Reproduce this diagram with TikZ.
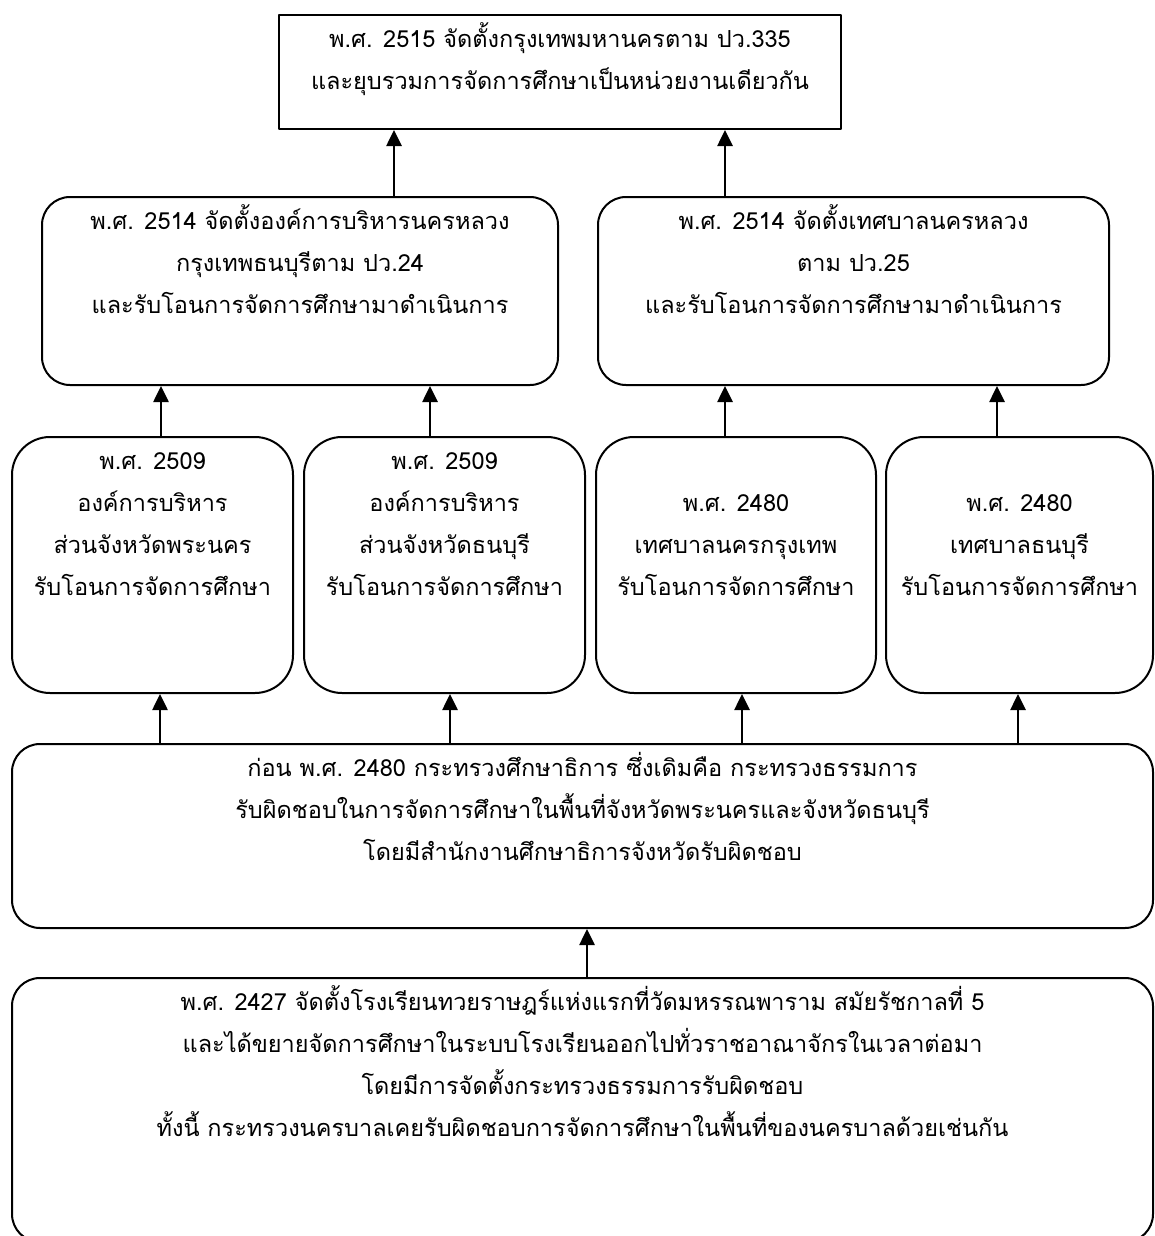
\documentclass[tikz,border=0pt]{standalone}
\usepackage{fontspec}
\setmainfont[Script=Thai]{Loma}
\usetikzlibrary{arrows.meta,positioning,calc}
\newcommand\thaitext{\fontsize{23.5}{42}\selectfont}
\tikzset{
  box/.style={draw, line width=2pt, inner sep=0pt},
  rbox/.style={box, rounded corners=28pt},
  tallbox/.style={box, rounded corners=38pt, minimum width=281pt, minimum height=256pt},
  txt/.style={anchor=north, align=center, inner sep=0pt, yshift=-4pt, font=\thaitext},
  arr/.style={line width=2.6pt, -{Triangle[width=15pt,length=16pt]}},
}

\begin{document}
\begin{tikzpicture}[x=1pt, y=-1pt, line join=round]
\useasboundingbox (0,0) rectangle (1154,1236);
% top
\node[box, minimum width=562pt, minimum height=114pt,
  label={[txt]north:{\strut พ.ศ. 2515 จัดตั้งกรุงเทพมหานครตาม ปว.335\\และยุบรวมการจัดการศึกษาเป็นหน่วยงานเดียวกัน}}] (y2515) at (560,72) {};
% 2514
\node[rbox, minimum width=516pt, minimum height=188pt,
  label={[txt]north:{\strut พ.ศ. 2514 จัดตั้งองค์การบริหารนครหลวง\\กรุงเทพธนบุรีตาม ปว.24\\และรับโอนการจัดการศึกษามาดำเนินการ}}] (y2514a) at (300,291) {};
\node[rbox, minimum width=511pt, minimum height=188pt,
  label={[txt]north:{\strut พ.ศ. 2514 จัดตั้งเทศบาลนครหลวง\\ตาม ปว.25\\และรับโอนการจัดการศึกษามาดำเนินการ}}] (y2514b) at (853.5,291) {};
% 2509 / 2480
\node[tallbox,
  label={[txt]north:{\strut พ.ศ. 2509\\องค์การบริหาร\\ส่วนจังหวัดพระนคร\\รับโอนการจัดการศึกษา}}] (y2509a) at (152.5,565) {};
\node[tallbox,
  label={[txt]north:{\strut พ.ศ. 2509\\องค์การบริหาร\\ส่วนจังหวัดธนบุรี\\รับโอนการจัดการศึกษา}}] (y2509b) at (444.5,565) {};
\node[tallbox, minimum width=280pt,
  label={[txt, yshift=-42pt]north:{\strut พ.ศ. 2480\\เทศบาลนครกรุงเทพ\\รับโอนการจัดการศึกษา}}] (y2480a) at (736,565) {};
\node[tallbox, minimum width=267pt,
  label={[txt, yshift=-42pt]north:{\strut พ.ศ. 2480\\เทศบาลธนบุรี\\รับโอนการจัดการศึกษา}}] (y2480b) at (1019.5,565) {};
% before 2480
\node[rbox, minimum width=1141pt, minimum height=184pt,
  label={[txt]north:{\strut ก่อน พ.ศ. 2480 กระทรวงศึกษาธิการ ซึ่งเดิมคือ กระทรวงธรรมการ\\รับผิดชอบในการจัดการศึกษาในพื้นที่จังหวัดพระนครและจังหวัดธนบุรี\\โดยมีสำนักงานศึกษาธิการจังหวัดรับผิดชอบ}}] (pre2480) at (582.5,836) {};
% 2427
\node[rbox, minimum width=1141pt, minimum height=264pt,
  label={[txt]north:{\strut พ.ศ. 2427 จัดตั้งโรงเรียนทวยราษฎร์แห่งแรกที่วัดมหรรณพาราม สมัยรัชกาลที่ 5\\และได้ขยายจัดการศึกษาในระบบโรงเรียนออกไปทั่วราชอาณาจักรในเวลาต่อมา\\โดยมีการจัดตั้งกระทรวงธรรมการรับผิดชอบ\\ทั้งนี้ กระทรวงนครบาลเคยรับผิดชอบการจัดการศึกษาในพื้นที่ของนครบาลด้วยเช่นกัน}}] (y2427) at (582.5,1110) {};

\draw[arr] (587,0 |- y2427.north) -- (587,0 |- pre2480.south);
\draw[arr] (160,0 |- pre2480.north) -- (160,0 |- y2509a.south);
\draw[arr] (450,0 |- pre2480.north) -- (450,0 |- y2509b.south);
\draw[arr] (742,0 |- pre2480.north) -- (742,0 |- y2480a.south);
\draw[arr] (1018,0 |- pre2480.north) -- (1018,0 |- y2480b.south);
\draw[arr] (161,0 |- y2509a.north) -- (161,0 |- y2514a.south);
\draw[arr] (430,0 |- y2509b.north) -- (430,0 |- y2514a.south);
\draw[arr] (725,0 |- y2480a.north) -- (725,0 |- y2514b.south);
\draw[arr] (997,0 |- y2480b.north) -- (997,0 |- y2514b.south);
\draw[arr] (394,0 |- y2514a.north) -- (394,0 |- y2515.south);
\draw[arr] (725,0 |- y2514b.north) -- (725,0 |- y2515.south);
\end{tikzpicture}
\end{document}
